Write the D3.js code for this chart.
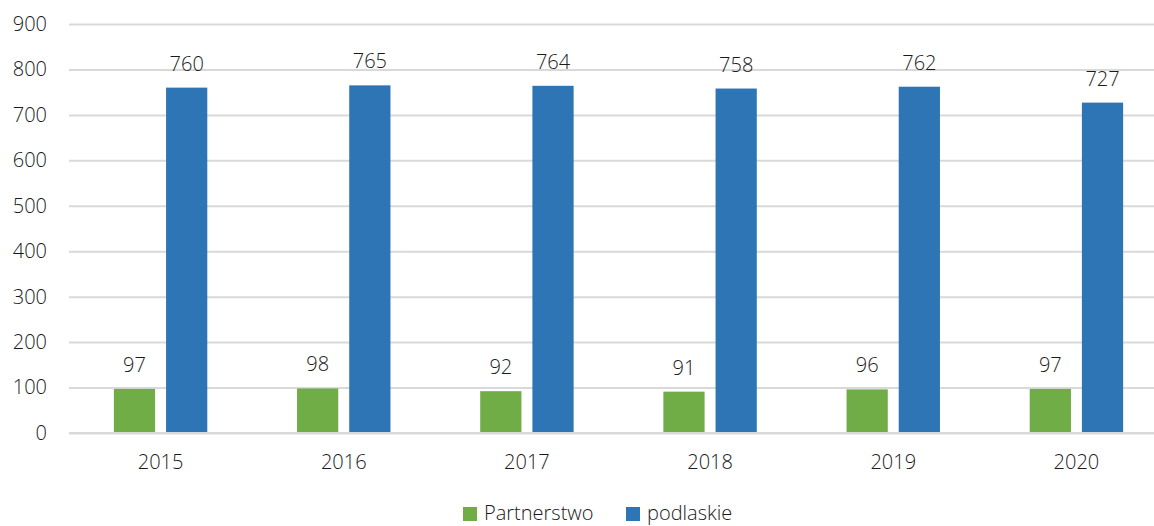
<!DOCTYPE html>
<html><head><meta charset="utf-8">
<script src="https://cdn.jsdelivr.net/npm/d3@7"></script>
<style>body{margin:0;background:#fff}svg{display:block}text{font-family:"Open Sans",sans-serif;font-weight:300;fill:#1a1a1a}</style>
</head><body>
<svg id="c" width="1154" height="526"></svg>
<script>
const categories = ["2015","2016","2017","2018","2019","2020"];
const seriesNames = ["Partnerstwo","podlaskie"];
const partnerstwo = [97,98,92,91,96,97];
const podlaskie = [760,765,764,758,762,727];
const yTicks = [0,100,200,300,400,500,600,700,800,900];
const colors = ["#70AD47","#2E75B6"];

const data = categories.map((c,i)=>({cat:c, vals:[partnerstwo[i], podlaskie[i]]}));
const svg = d3.select("#c");
const x = d3.scaleBand().domain(categories).range([69,1168]).paddingInner(0.49).paddingOuter(0.245);
const xs = d3.scaleBand().domain(seriesNames).range([0,x.bandwidth()]).paddingInner(0.21);
const y = d3.scaleLinear().domain([0,900]).range([433,24]);

const yAxis = d3.axisLeft(y).tickValues(yTicks).tickSize(-(1154-69)).tickPadding(22);
const gy = svg.append("g").attr("transform","translate(69,0)").call(yAxis);
gy.select(".domain").remove();
gy.selectAll(".tick line").attr("stroke","#d9d9d9").attr("stroke-width",2);
gy.selectAll(".tick text").attr("font-size",20).attr("fill","#1a1a1a").attr("font-family",null);

const g = svg.append("g");
const grp = g.selectAll("g.grp").data(data).join("g").attr("transform",d=>`translate(${x(d.cat)},0)`);
grp.selectAll("rect").data(d=>d.vals.map((v,k)=>({k,v}))).join("rect")
  .attr("x",d=>xs(seriesNames[d.k])).attr("width",xs.bandwidth())
  .attr("y",d=>y(d.v)).attr("height",d=>y(0)-y(d.v))
  .attr("fill",d=>colors[d.k]);
grp.selectAll("text").data(d=>d.vals.map((v,k)=>({k,v}))).join("text")
  .attr("x",d=>xs(seriesNames[d.k])+xs.bandwidth()/2).attr("y",d=>y(d.v)-17)
  .attr("text-anchor","middle").attr("font-size",20).text(d=>d.v);

const xAxis = d3.axisBottom(x).tickSize(0).tickPadding(22);
const gx = svg.append("g").attr("transform","translate(0,433)").call(xAxis);
gx.select(".domain").attr("stroke","#d9d9d9").attr("stroke-width",2).attr("d","M69,0H1154");
gx.selectAll(".tick text").attr("font-size",20).attr("fill","#1a1a1a").attr("font-family",null);

const legX = [463,626];
const leg = svg.append("g");
seriesNames.forEach((s,i)=>{
  leg.append("rect").attr("x",legX[i]).attr("y",507).attr("width",14).attr("height",14).attr("fill",colors[i]);
  leg.append("text").attr("x",legX[i]+21).attr("y",520).attr("font-size",20).text(s);
});
</script>
</body></html>
